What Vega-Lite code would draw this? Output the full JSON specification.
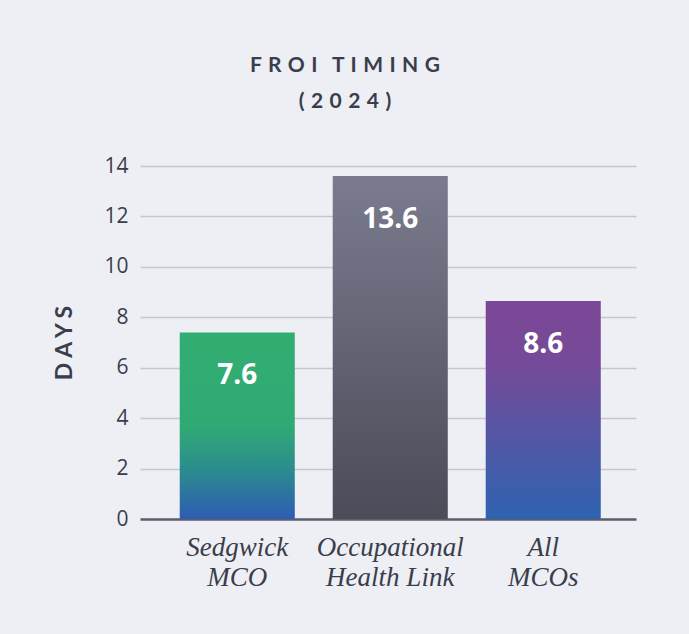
{
  "$schema": "https://vega.github.io/schema/vega-lite/v6.json",
  "autosize": "none",
  "width": 496,
  "height": 353,
  "padding": {"left": 140, "top": 166, "right": 53, "bottom": 115},
  "background": "#eeeff4",
  "title": {
    "text": ["F\u00a0\u200aR\u00a0\u200aO\u00a0\u200aI\u00a0\u00a0\u00a0T\u00a0\u200aI\u00a0\u200aM\u00a0\u200aI\u00a0\u200aN\u00a0\u200aG", "(\u00a0\u200a2\u00a0\u200a0\u00a0\u200a2\u00a0\u200a4\u00a0\u200a)"],
    "font": "Lato",
    "fontSize": 21,
    "fontWeight": "bold",
    "color": "#3a3e4c",
    "lineHeight": 36,
    "anchor": "middle",
    "frame": "bounds",
    "offset": 43
  },
  "data": {
    "values": [
      {"mco": "Sedgwick MCO", "days": 7.4, "label": "7.6"},
      {"mco": "Occupational Health Link", "days": 13.6, "label": "13.6"},
      {"mco": "All MCOs", "days": 8.65, "label": "8.6"}
    ]
  },
  "encoding": {
    "x": {
      "field": "mco",
      "type": "nominal",
      "sort": null,
      "scale": {"domain": ["Sedgwick MCO", "Occupational Health Link", "All MCOs"], "paddingInner": 0.248, "paddingOuter": 0.245, "align": 0.53},
      "axis": {
        "title": null,
        "labelAngle": 0,
        "labelExpr": "[slice(datum.label, 0, indexof(datum.label, ' ')), slice(datum.label, indexof(datum.label, ' ') + 1)]",
        "labelFont": "Liberation Serif",
        "labelFontStyle": "italic",
        "labelFontSize": 27,
        "labelLineHeight": 30,
        "labelColor": "#3a3e4c",
        "labelPadding": 15,
        "ticks": false,
        "domainColor": "#5c5e6b",
        "domainWidth": 2.5,
        "grid": false
      }
    },
    "y": {
      "field": "days",
      "type": "quantitative",
      "scale": {"domain": [0, 14]},
      "axis": {
        "title": "D\u00a0A\u00a0Y\u00a0S",
        "titleFont": "Lato",
        "titleFontSize": 23,
        "titleFontWeight": "bold",
        "titleColor": "#3a3e4c",
        "titlePadding": 27,
        "values": [0, 2, 4, 6, 8, 10, 12, 14],
        "labelFont": "Open Sans",
        "labelFontSize": 21,
        "labelColor": "#3a3e4c",
        "labelPadding": 12,
        "ticks": false,
        "domain": false,
        "grid": true,
        "gridColor": "#c6c7cd",
        "gridWidth": 1.3
      }
    }
  },
  "layer": [
    {
      "transform": [{"filter": "datum.mco == 'Sedgwick MCO'"}],
      "mark": {
        "type": "bar",
        "fill": {"gradient": "linear", "x1": 0, "y1": 0, "x2": 0, "y2": 1, "stops": [
          {"offset": 0, "color": "#32ae72"},
          {"offset": 0.5, "color": "#30aa74"},
          {"offset": 0.75, "color": "#2b8a90"},
          {"offset": 1, "color": "#2f5bb3"}
        ]}
      }
    },
    {
      "transform": [{"filter": "datum.mco == 'Occupational Health Link'"}],
      "mark": {
        "type": "bar",
        "fill": {"gradient": "linear", "x1": 0, "y1": 0, "x2": 0, "y2": 1, "stops": [
          {"offset": 0, "color": "#7a7b8e"},
          {"offset": 1, "color": "#4b4c58"}
        ]}
      }
    },
    {
      "transform": [{"filter": "datum.mco == 'All MCOs'"}],
      "mark": {
        "type": "bar",
        "fill": {"gradient": "linear", "x1": 0, "y1": 0, "x2": 0, "y2": 1, "stops": [
          {"offset": 0, "color": "#7c4796"},
          {"offset": 0.3, "color": "#744b99"},
          {"offset": 1, "color": "#2e63b1"}
        ]}
      }
    },
    {
      "mark": {"type": "text", "font": "Open Sans", "fontSize": 28, "fontWeight": "bold", "color": "white", "baseline": "alphabetic", "dy": 52},
      "encoding": {"text": {"field": "label"}}
    }
  ],
  "config": {"view": {"stroke": null}}
}
